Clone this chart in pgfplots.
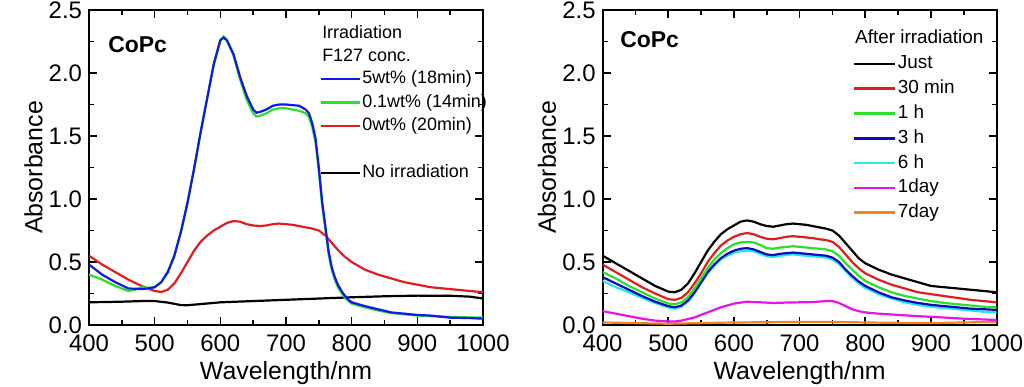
\documentclass[border=0pt]{standalone}
\usepackage{fontspec}
\setmainfont{Liberation Sans}
\usepackage{pgfplots}
\pgfplotsset{compat=1.18}
\definecolor{cblue}{RGB}{15,25,235}
\definecolor{cdblue}{RGB}{10,10,190}
\definecolor{cgreen}{RGB}{40,225,40}
\definecolor{cred}{RGB}{225,30,30}
\definecolor{ccyan}{RGB}{40,230,235}
\definecolor{cmag}{RGB}{230,20,230}
\definecolor{corange}{RGB}{240,130,40}
\pgfplotsset{myaxis/.style={
  scale only axis, width=197bp, height=157.5bp,
  xmin=400, xmax=1000, ymin=0, ymax=2.5,
  xtick={400,500,...,1000}, ytick={0,0.5,...,2.5},
  minor x tick num=1, minor y tick num=1,
  tick align=inside, tick pos=both,
  major tick length=4bp, minor tick length=2.5bp,
  every tick/.style={black, line width=0.8bp},
  axis line style={line width=1bp},
  /pgf/number format/assume math mode=true,
  /pgf/number format/1000 sep={},
  tick label style={font=\fontsize{12}{14}\selectfont},
  xticklabel style={yshift=-1.2bp},
  yticklabel style={/pgf/number format/fixed, /pgf/number format/fixed zerofill, /pgf/number format/precision=1},
  label style={font=\fontsize{12.5}{14}\selectfont},
  xlabel={Wavelength/nm}, ylabel={Absorbance},
  xlabel style={at={(axis description cs:0.5,-0.152)}, anchor=center},
  ylabel style={at={(axis description cs:-0.141,0.5)}, anchor=center},
  every axis plot/.append style={line width=1.1bp},
  legend cell align=left,
}}
\begin{document}
\begin{tikzpicture}
\path[use as bounding box] (-44.5bp,-31bp) rectangle (467.5bp,162.5bp);
% ---------------- panel (a)
\begin{axis}[myaxis,
  legend style={draw=none, fill=none, at={(axis description cs:0.585,0.8125)}, anchor=north west,
    font=\fontsize{9}{10}\selectfont, inner sep=0pt, row sep=2.1bp,
    nodes={inner sep=0.6bp, text height=6.6bp, text depth=1.8bp}},
  legend image code/.code={\draw[#1,line width=1.1bp] (0bp,0bp) -- (19.5bp,0bp);},
]
\addplot[black, forget plot] table {
400 0.18
450 0.185
480 0.19
500 0.19
520 0.178
540 0.158
550 0.157
570 0.166
600 0.18
650 0.19
700 0.20
750 0.21
800 0.22
850 0.228
900 0.233
950 0.232
980 0.225
1000 0.21
};
\addplot[cred, forget plot] table {
400 0.55
420 0.48
440 0.42
460 0.36
480 0.31
500 0.27
510 0.262
520 0.28
530 0.33
540 0.41
550 0.50
560 0.59
570 0.66
580 0.71
590 0.75
600 0.78
610 0.81
620 0.825
630 0.82
640 0.80
650 0.79
660 0.785
670 0.79
680 0.80
690 0.805
700 0.80
710 0.795
720 0.785
730 0.775
740 0.765
750 0.75
760 0.71
770 0.65
780 0.59
790 0.54
800 0.50
820 0.44
840 0.40
860 0.37
880 0.34
900 0.32
920 0.30
940 0.29
960 0.28
980 0.27
1000 0.26
};
\addplot[cgreen, forget plot] table {
400 0.40
420 0.36
440 0.31
460 0.27
470 0.28
480 0.30
490 0.295
500 0.30
510 0.34
520 0.42
530 0.55
540 0.74
550 0.97
560 1.24
570 1.53
580 1.80
590 2.07
600 2.26
605 2.29
610 2.26
620 2.14
630 1.95
640 1.79
650 1.68
655 1.655
660 1.66
670 1.68
680 1.71
690 1.72
700 1.72
710 1.71
720 1.70
730 1.68
735 1.65
740 1.57
745 1.45
750 1.22
755 0.95
760 0.76
765 0.56
770 0.43
775 0.35
780 0.29
787 0.235
795 0.19
800 0.17
820 0.14
840 0.115
860 0.095
880 0.085
900 0.075
920 0.07
950 0.065
980 0.06
1000 0.06
};
\addplot[cblue, forget plot] table {
400 0.48
420 0.40
440 0.34
460 0.29
480 0.285
490 0.29
500 0.30
510 0.34
520 0.42
530 0.55
540 0.74
550 0.97
560 1.24
570 1.53
580 1.80
590 2.07
600 2.26
605 2.28
610 2.26
620 2.15
630 1.97
640 1.82
650 1.71
655 1.685
660 1.69
670 1.71
680 1.74
690 1.75
700 1.75
710 1.745
720 1.74
730 1.71
735 1.68
740 1.60
745 1.48
750 1.25
755 0.98
760 0.78
765 0.58
770 0.45
775 0.37
780 0.31
787 0.25
795 0.20
800 0.18
820 0.15
840 0.125
860 0.10
880 0.09
900 0.08
920 0.075
950 0.058
980 0.055
1000 0.05
};
\addlegendimage{cblue}\addlegendentry{5wt\% (18min)}
\addlegendimage{cgreen}\addlegendentry{0.1wt\% (14min)}
\addlegendimage{cred}\addlegendentry{0wt\% (20min)}
\addlegendimage{empty legend}\addlegendentry{}
\addlegendimage{black}\addlegendentry{No irradiation}
\node[anchor=west, font=\fontsize{9}{10}\selectfont, inner sep=0pt] at (axis description cs:0.591,0.930) {Irradiation};
\node[anchor=west, font=\fontsize{9}{10}\selectfont, inner sep=0pt] at (axis description cs:0.591,0.857) {F127 conc.};
\node[anchor=west, font=\bfseries\fontsize{11.5}{13}\selectfont, inner sep=0pt] at (axis description cs:0.048,0.889) {CoPc};
\node[anchor=center, font=\fontsize{14}{16}\selectfont, inner sep=0pt] at (axis description cs:-0.180,0.930) {(a)};
\end{axis}
% ---------------- panel (b)
\begin{axis}[myaxis, at={(256.8bp,0bp)},
  legend style={draw=none, fill=none, at={(axis description cs:0.633,0.862)}, anchor=north west,
    font=\fontsize{9.5}{11}\selectfont, inner sep=0pt, row sep=2.4bp,
    nodes={inner sep=0.6bp, text height=6.9bp, text depth=1.9bp}},
  legend image code/.code={\draw[#1,line width=1.3bp] (0bp,0bp) -- (20.8bp,0bp);},
]
\addplot[corange, forget plot] table {
400 0.02
450 0.015
500 0.01
550 0.015
600 0.02
650 0.022
700 0.025
750 0.025
800 0.02
850 0.017
900 0.015
950 0.02
1000 0.025
};
\addplot[cmag, forget plot] table {
400 0.11
420 0.09
440 0.07
460 0.05
480 0.035
500 0.028
510 0.028
520 0.035
540 0.06
560 0.10
580 0.14
600 0.17
620 0.185
640 0.18
660 0.175
680 0.178
700 0.18
720 0.182
740 0.19
750 0.19
760 0.175
770 0.15
780 0.125
790 0.11
800 0.10
820 0.09
850 0.08
880 0.07
900 0.065
950 0.05
1000 0.04
};
\addplot[ccyan, forget plot] table {
400 0.35
420 0.30
440 0.26
460 0.215
480 0.175
500 0.14
510 0.13
520 0.145
530 0.185
540 0.25
550 0.33
560 0.41
570 0.47
580 0.52
590 0.55
600 0.575
610 0.585
620 0.59
630 0.585
640 0.565
650 0.545
660 0.54
670 0.55
680 0.555
690 0.56
700 0.555
710 0.55
720 0.545
730 0.54
740 0.535
750 0.52
760 0.485
770 0.43
780 0.375
790 0.33
800 0.295
820 0.245
840 0.21
860 0.18
880 0.16
900 0.145
920 0.135
940 0.125
960 0.115
980 0.105
1000 0.10
};
\addplot[cdblue, forget plot] table {
400 0.38
420 0.33
440 0.28
460 0.23
480 0.185
500 0.15
510 0.14
520 0.155
530 0.195
540 0.26
550 0.34
560 0.42
570 0.48
580 0.53
590 0.565
600 0.59
610 0.605
620 0.61
630 0.60
640 0.58
650 0.56
660 0.555
670 0.565
680 0.57
690 0.575
700 0.57
710 0.565
720 0.56
730 0.555
740 0.55
750 0.535
760 0.50
770 0.44
780 0.39
790 0.345
800 0.31
820 0.26
840 0.22
860 0.195
880 0.175
900 0.16
920 0.15
940 0.14
960 0.13
980 0.125
1000 0.12
};
\addplot[cgreen, forget plot] table {
400 0.42
420 0.37
440 0.31
460 0.26
480 0.21
500 0.17
510 0.165
520 0.18
530 0.22
540 0.29
550 0.37
560 0.45
570 0.52
580 0.57
590 0.61
600 0.64
610 0.655
620 0.66
630 0.655
640 0.635
650 0.61
660 0.605
670 0.615
680 0.62
690 0.625
700 0.62
710 0.615
720 0.61
730 0.605
740 0.60
750 0.585
760 0.55
770 0.49
780 0.44
790 0.39
800 0.35
820 0.30
840 0.26
860 0.23
880 0.21
900 0.19
920 0.175
940 0.165
960 0.155
980 0.145
1000 0.14
};
\addplot[cred, forget plot] table {
400 0.48
420 0.42
440 0.36
460 0.30
480 0.25
500 0.205
510 0.20
520 0.215
530 0.26
540 0.33
550 0.41
560 0.50
570 0.57
580 0.63
590 0.67
600 0.70
610 0.72
620 0.73
630 0.72
640 0.70
650 0.685
660 0.68
670 0.69
680 0.70
690 0.705
700 0.70
710 0.695
720 0.69
730 0.68
740 0.675
750 0.66
760 0.62
770 0.56
780 0.50
790 0.45
800 0.41
820 0.36
840 0.32
860 0.29
880 0.26
900 0.245
920 0.23
940 0.215
960 0.20
980 0.19
1000 0.18
};
\addplot[black, forget plot] table {
400 0.55
420 0.49
440 0.43
460 0.37
480 0.31
500 0.265
510 0.26
520 0.28
530 0.33
540 0.41
550 0.50
560 0.59
570 0.66
580 0.72
590 0.76
600 0.79
610 0.82
620 0.83
630 0.82
640 0.80
650 0.785
660 0.78
670 0.79
680 0.80
690 0.805
700 0.80
710 0.795
720 0.785
730 0.775
740 0.765
750 0.75
760 0.71
770 0.65
780 0.59
790 0.53
800 0.49
820 0.44
840 0.40
860 0.37
880 0.34
900 0.31
920 0.30
940 0.29
960 0.28
980 0.27
1000 0.26
};
\addlegendimage{black}\addlegendentry{Just}
\addlegendimage{cred}\addlegendentry{30 min}
\addlegendimage{cgreen}\addlegendentry{1 h}
\addlegendimage{cdblue}\addlegendentry{3 h}
\addlegendimage{ccyan}\addlegendentry{6 h}
\addlegendimage{cmag}\addlegendentry{1day}
\addlegendimage{corange}\addlegendentry{7day}
\node[anchor=west, font=\fontsize{9.5}{11}\selectfont, inner sep=0pt] at (axis description cs:0.64,0.915) {After irradiation};
\node[anchor=west, font=\bfseries\fontsize{11.5}{13}\selectfont, inner sep=0pt] at (axis description cs:0.044,0.905) {CoPc};
\node[anchor=center, font=\fontsize{14}{16}\selectfont, inner sep=0pt] at (axis description cs:-0.179,0.911) {(b)};
\end{axis}
\end{tikzpicture}
\end{document}
